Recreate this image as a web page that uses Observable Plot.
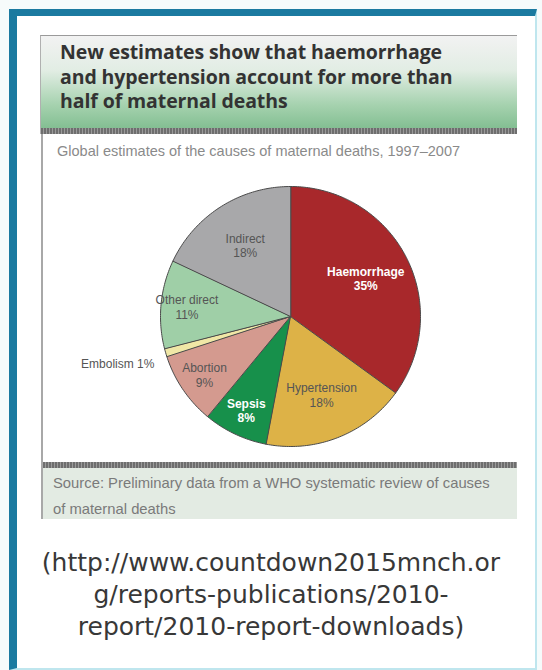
<!DOCTYPE html>
<html>
<head>
<meta charset="utf-8">
<script src="https://cdn.jsdelivr.net/npm/d3@7"></script>
<script src="https://cdn.jsdelivr.net/npm/@observablehq/plot@0.6"></script>
<style>
  html, body { margin: 0; padding: 0; }
  body { width: 542px; height: 670px; background: #f6fbfb; position: relative; overflow: hidden; font-family: "Liberation Sans", Arial, sans-serif; }
  .frame { position: absolute; left: 9px; top: 9px; width: 528px; height: 661px; background: #ffffff;
           border-left: 8px solid #1b7aa0; border-top: 7px solid #1b7aa0; border-right: 2px solid #bfe6ee; border-bottom: 2px solid #bfe6ee; box-sizing: border-box; }
  .banner { position: absolute; left: 40px; top: 35px; width: 477px; height: 99px; box-sizing: border-box;
            border-top: 1px solid #9a9a9a; border-left: 1px solid #b0b0b0;
            background: linear-gradient(to bottom, #f2f2f2 0%, #e2ede4 35%, #a6d2af 70%, #7aba8b 100%); }
  .banner .strip { position: absolute; left: 0; right: 0; bottom: 0; height: 6px;
            background: repeating-linear-gradient(90deg, #6e6e6e 0 2px, #9a9a9a 2px 3px); }
  .title { position: absolute; left: 60px; top: 40px; width: 456px; font-family: "Open Sans", sans-serif; font-weight: 700;
           font-size: 19.5px; line-height: 24.5px; color: #333333; letter-spacing: -0.1px; }
  .subtitle { position: absolute; left: 57px; top: 143px; font-size: 14.5px; color: #8a8a8a; }
  .vline { position: absolute; left: 41px; top: 134px; width: 2px; height: 385px; background: #a8a8a8; }
  .chart { position: absolute; left: 42px; top: 160px; }
  .footer { position: absolute; left: 43px; top: 462px; width: 474px; height: 57px; background: #e3ebe3; }
  .footer .strip { position: absolute; left: 0; right: 0; top: 0; height: 6px;
            background: repeating-linear-gradient(90deg, #6e6e6e 0 2px, #9a9a9a 2px 3px); }
  .source { position: absolute; left: 53px; top: 470px; width: 470px; font-size: 14.8px; line-height: 26px; color: #7a7a7a; }
  .url { position: absolute; left: 0; top: 547px; width: 542px; text-align: center; font-family: "DejaVu Sans", sans-serif;
         font-size: 25px; line-height: 32px; color: #383838; }
</style>
</head>
<body>
<div class="frame"></div>
<div class="banner"><div class="strip"></div></div>
<div class="title">New estimates show that haemorrhage<br>and hypertension account for more than<br>half of maternal deaths</div>
<div class="subtitle">Global estimates of the causes of maternal deaths, 1997–2007</div>
<div class="vline"></div>
<div class="footer"><div class="strip"></div></div>
<div class="source">Source: Preliminary data from a WHO systematic review of causes<br>of maternal deaths</div>
<div class="url">(http://www.countdown2015mnch.or<br>g/reports-publications/2010-<br>report/2010-report-downloads)</div>
<div class="chart" id="chart"></div>
<script>
// Data
const causes = ["Haemorrhage", "Hypertension", "Sepsis", "Abortion", "Embolism", "Other direct", "Indirect"];
const shares = [35, 18, 8, 9, 1, 11, 18];
const sliceColors = ["#a8282b", "#ddb247", "#17904b", "#d49a8f", "#f0e7a6", "#9fcfa7", "#a8a8aa"];
const whiteLabel = ["Haemorrhage", "Sepsis"];

const rows = causes.map((c, i) => ({cause: c, share: shares[i]}));
const arcs = d3.pie().sort(null).value(d => d.share)(rows);

// polygon points of every slice, built from the pie angles
const pts = [];
for (const a of arcs) {
  const c = a.data.cause;
  pts.push({cause: c, x: 0, y: 0});
  const n = Math.max(2, Math.ceil((a.endAngle - a.startAngle) / (Math.PI / 180)));
  for (let k = 0; k <= n; k++) {
    const t = a.startAngle + (a.endAngle - a.startAngle) * k / n;
    pts.push({cause: c, x: Math.sin(t), y: Math.cos(t)});
  }
}

// labels at slice mid angles
const labels = arcs.map(a => {
  const mid = (a.startAngle + a.endAngle) / 2;
  const p = a.data.share;
  const outside = p < 2;
  const f = outside ? 1.09 : (p >= 15 ? 0.65 : 0.8);
  return {
    cause: a.data.cause,
    text: outside ? `${a.data.cause} ${p}%` : `${a.data.cause}\n${p}%`,
    x: Math.sin(mid) * f,
    y: Math.cos(mid) * f - (outside ? 0.06 : 0),
    outside
  };
});

const chart = Plot.plot({
  width: 475,
  height: 300,
  marginLeft: 118,
  marginRight: 97,
  marginTop: 26,
  marginBottom: 14,
  x: {domain: [-1, 1], axis: null},
  y: {domain: [-1, 1], axis: null},
  color: {domain: causes, range: sliceColors},
  style: {background: "transparent", fontFamily: "Liberation Sans, Arial, sans-serif"},
  marks: [
    Plot.line(pts, {x: "x", y: "y", z: "cause", fill: "cause", stroke: "#4a4a4a", strokeWidth: 1, curve: "linear-closed"}),
    Plot.text(labels.filter(d => !whiteLabel.includes(d.cause) && !d.outside), {x: "x", y: "y", text: "text", fill: "#555555", fontSize: 12, lineHeight: 1.2}),
    Plot.text(labels.filter(d => d.outside), {x: "x", y: "y", text: "text", fill: "#555555", fontSize: 12, textAnchor: "end"}),
    Plot.text(labels.filter(d => whiteLabel.includes(d.cause)), {x: "x", y: "y", text: "text", fill: "white", fontSize: 12, fontWeight: "bold", lineHeight: 1.2})
  ]
});
document.getElementById("chart").appendChild(chart);
</script>
</body>
</html>
